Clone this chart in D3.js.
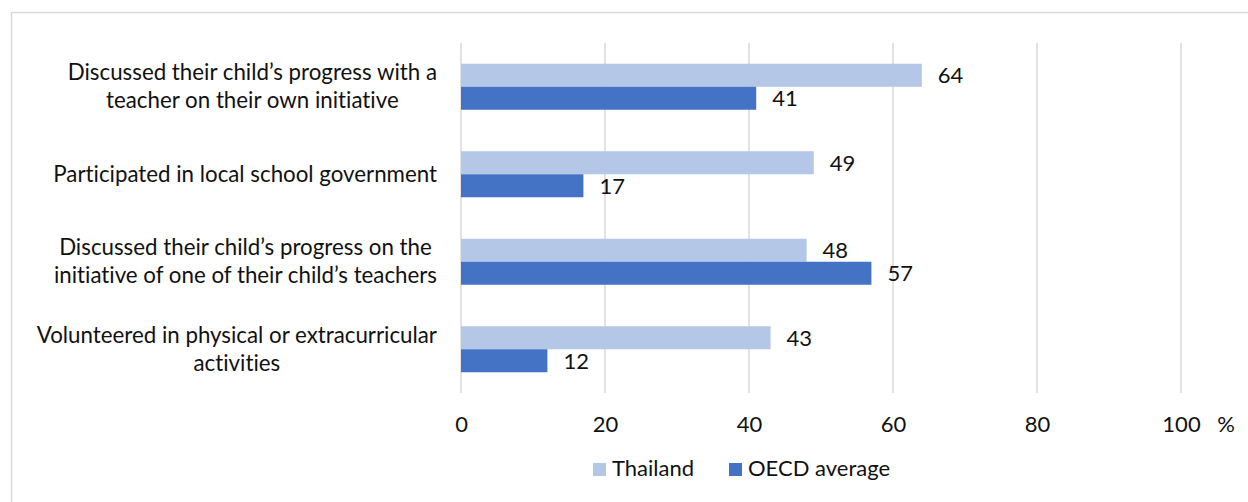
<!DOCTYPE html>
<html>
<head>
<meta charset="utf-8">
<script src="https://cdn.jsdelivr.net/npm/d3@7"></script>
<style>
  html, body { margin: 0; padding: 0; background: #fff; }
  svg { display: block; }
  text { font-family: Lato, "Open Sans", sans-serif; fill: #111; font-variant-ligatures: none; font-feature-settings: "liga" 0, "dlig" 0; }
</style>
</head>
<body>
<svg id="chart" width="1248" height="502"></svg>
<script>
const categories = [
  ["Discussed their child\u2019s progress with a", "teacher on their own initiative"],
  ["Participated in local school government"],
  ["Discussed their child\u2019s progress on the", "initiative of one of their child\u2019s teachers"],
  ["Volunteered in physical or extracurricular", "activities"]
];
const seriesNames = ["Thailand", "OECD average"];
const thailand = [64, 49, 48, 43];
const oecd = [41, 17, 57, 12];
const xTicks = [0, 20, 40, 60, 80, 100];
const unitLabel = "%";

const colors = { "Thailand": "#B4C7E7", "OECD average": "#4472C4" };
const fontSize = 22;
const catFontSize = 22.3;

const svg = d3.select("#chart");
const plot = { left: 461, right: 1181, top: 43, bottom: 393 };

// outer frame
svg.append("rect").attr("x", 11.5).attr("y", 12.5).attr("width", 1300).attr("height", 600)
  .attr("fill", "none").attr("stroke", "#d9d9d9").attr("stroke-width", 1.5);

const x = d3.scaleLinear().domain([0, 100]).range([plot.left, plot.right]);
const catIdx = categories.map((d, i) => i);
const pIn = 1 - 46 / 87.5;
const y = d3.scaleBand().domain(catIdx).range([plot.top, plot.bottom]).paddingInner(pIn).paddingOuter(pIn / 2);
const ySub = d3.scaleBand().domain(seriesNames).range([0, y.bandwidth()]);

// gridlines
svg.append("g").selectAll("line").data(xTicks).join("line")
  .attr("x1", d => x(d)).attr("x2", d => x(d))
  .attr("y1", plot.top).attr("y2", plot.bottom)
  .attr("stroke", "#d9d9d9").attr("stroke-width", 1.5);

// x axis
const xAxis = svg.append("g").attr("transform", `translate(0,${plot.bottom})`)
  .call(d3.axisBottom(x).tickValues(xTicks).tickSize(0).tickPadding(0).tickFormat(d3.format("d")));
xAxis.select(".domain").remove();
xAxis.selectAll("text").attr("font-size", fontSize).attr("dy", null).attr("y", 432 - plot.bottom)
  .style("font-family", "Lato, 'Open Sans', sans-serif").attr("fill", "#111");
svg.append("text").attr("x", 1226).attr("y", 432).attr("text-anchor", "middle")
  .attr("font-size", fontSize).text(unitLabel);

// bars
const rows = catIdx.map(i => ({ i, vals: [
  { s: "Thailand", v: thailand[i] },
  { s: "OECD average", v: oecd[i] }
]}));
const gRows = svg.append("g").selectAll("g").data(rows).join("g")
  .attr("transform", d => `translate(0,${y(d.i)})`);
gRows.selectAll("rect").data(d => d.vals).join("rect")
  .attr("x", x(0)).attr("y", d => ySub(d.s))
  .attr("width", d => x(d.v) - x(0)).attr("height", ySub.bandwidth())
  .attr("fill", d => colors[d.s]);
gRows.selectAll("text.val").data(d => d.vals).join("text").attr("class", "val")
  .attr("x", d => x(d.v) + 16).attr("y", d => ySub(d.s) + ySub.bandwidth() / 2)
  .attr("dy", "0.36em").attr("font-size", fontSize).text(d => d.v);

// category labels (centered lines, block right-aligned)
const labelRight = 437, lineH = 28;
categories.forEach((lines, i) => {
  const cy = y(i) + y.bandwidth() / 2;
  const t = svg.append("text").attr("font-size", catFontSize).attr("text-anchor", "middle");
  const spans = lines.map((ln, k) => t.append("tspan").text(ln)
    .attr("y", cy + 7.5 + (k - (lines.length - 1) / 2) * lineH));
  const maxW = d3.max(spans, s => s.node().getComputedTextLength());
  spans.forEach(s => s.attr("x", labelRight - maxW / 2));
});

// legend
const legendItems = [
  { s: "Thailand", x: 593, tx: 612 },
  { s: "OECD average", x: 729, tx: 748 }
];
const lg = svg.append("g");
legendItems.forEach(it => {
  lg.append("rect").attr("x", it.x).attr("y", 463).attr("width", 13).attr("height", 13).attr("fill", colors[it.s]);
  lg.append("text").attr("x", it.tx).attr("y", 476).attr("font-size", fontSize).text(it.s);
});
</script>
</body>
</html>
